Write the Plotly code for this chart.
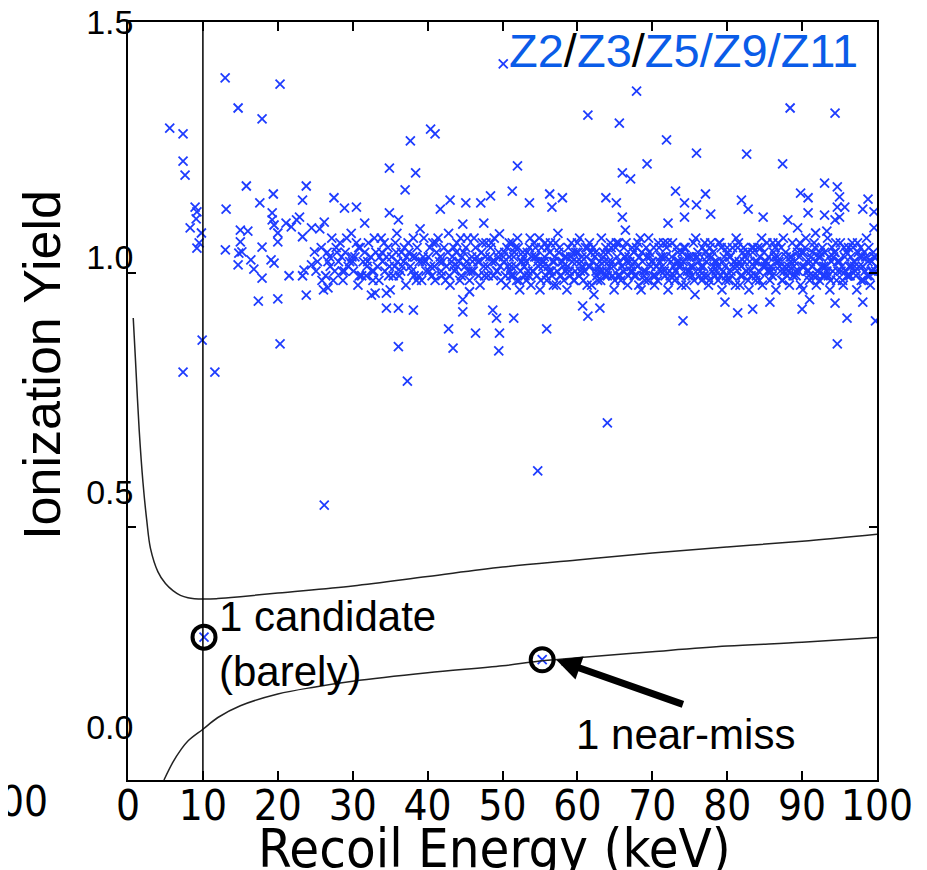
import plotly.graph_objects as go

# ---------------- data ----------------
outlier_x = [5.57, 7.35, 7.35, 7.62, 12.97, 14.7, 17.9, 20.3, 8.96, 9.2, 8.3, 9.8, 9.2, 9.5, 9.1,
             9.9, 7.35, 11.6, 20.3, 15.8, 13.1, 13.0, 17.6, 19.4, 23.8, 23.3, 19.25, 19.25, 19.5,
             15.0, 16.0, 15.0, 14.8, 15.2, 14.7, 16.4, 16.8, 17.9, 17.9, 19.1, 19.5, 20.0, 20.0,
             21.1, 21.8, 22.5, 22.9, 23.3, 24.5, 21.5, 23.3, 23.5, 23.8, 17.4, 20.0, 24.9, 24.5,
             50.1, 40.4, 41.0, 37.7, 34.9, 38.4, 37.0, 27.5, 28.9, 30.5, 26.2, 31.6, 43.0, 45.1,
             47.1, 48.4, 41.7, 44.7, 47.5, 49.6, 36.1, 37.3, 26.2, 42.8, 43.4, 46.4, 49.6, 49.5,
             48.7, 49.2, 44.7, 44.7, 45.6, 32.5, 33.0, 34.5, 34.5, 36.1, 38.1, 26.7, 34.9, 36.1,
             67.9, 61.4, 65.6, 71.9, 75.9, 69.3, 52.0, 66.0, 67.1, 51.3, 56.3, 56.6, 58.0, 63.8,
             65.2, 73.1, 74.3, 75.9, 53.6, 66.0, 72.1, 74.3, 66.4, 51.5, 55.9, 61.4, 74.1, 64.0,
             54.7, 60.7, 63.0, 88.4, 94.4, 82.6, 87.4, 93.0, 94.7, 77.1, 81.9, 82.8, 89.8, 90.8,
             95.0, 95.7, 94.7, 98.8, 98.1, 77.8, 84.8, 90.8, 93.0, 94.4, 95.0, 88.1, 89.4, 91.8,
             93.3, 99.6, 99.6, 81.4, 83.4, 90.0, 91.0, 94.4, 96.0, 94.7, 99.8, 79.7, 85.7, 98.1]
outlier_y = [1.274, 1.262, 1.204, 1.174, 1.381, 1.317, 1.294, 1.368, 1.106, 1.096, 1.062, 1.051, 1.019, 1.03, 1.081,
             0.823, 0.755, 0.755, 0.815, 1.151, 1.102, 1.015, 1.115, 1.134, 1.151, 1.121, 1.094, 1.079, 1.068,
             1.057, 1.055, 1.032, 1.008, 1.011, 0.983, 0.994, 0.974, 0.955, 1.021, 0.994, 0.987, 1.051, 1.032,
             1.072, 1.064, 1.079, 1.085, 1.043, 1.062, 0.960, 0.960, 0.972, 0.919, 0.906, 0.911, 1.011, 0.983,
             1.411, 1.272, 1.262, 1.247, 1.189, 1.179, 1.143, 1.126, 1.104, 1.106, 1.074, 1.072, 1.121, 1.115,
             1.115, 1.130, 1.102, 1.070, 1.072, 1.049, 0.809, 0.736, 0.472, 0.847, 0.806, 0.838, 0.838, 0.800,
             0.887, 0.870, 0.883, 0.909, 0.926, 0.919, 0.923, 0.923, 0.891, 0.891, 0.887, 0.934, 1.094, 1.079,
             1.353, 1.302, 1.285, 1.249, 1.221, 1.198, 1.194, 1.179, 1.166, 1.140, 1.134, 1.106, 1.126, 1.126,
             1.115, 1.140, 1.115, 1.111, 1.115, 1.085, 1.072, 1.085, 1.057, 0.870, 0.847, 0.874, 0.864, 0.647,
             0.545, 0.896, 0.891, 1.317, 1.306, 1.219, 1.198, 1.157, 1.149, 1.134, 1.121, 1.102, 1.136, 1.126,
             1.128, 1.106, 1.106, 1.123, 1.102, 1.091, 1.085, 1.094, 1.089, 1.079, 1.085, 1.079, 1.062, 1.051,
             1.055, 1.096, 1.062, 0.881, 0.889, 0.889, 0.909, 0.902, 0.870, 0.815, 0.864, 0.904, 0.904, 0.904]

band_x = [25.3, 25.8, 26.4, 26.9, 27.2, 27.6, 28.1, 28.3, 28.7, 29.0, 29.4, 29.8, 30.1, 30.3, 30.7, 31.0,
          31.4, 31.8, 32.1, 32.4, 32.8, 33.1, 33.5, 33.8, 34.0, 34.3, 34.7, 35.0, 35.2, 35.6, 35.9, 36.2,
          36.5, 36.8, 37.1, 37.4, 37.7, 38.0, 38.2, 38.6, 38.9, 39.2, 39.5, 39.8, 40.1, 40.4, 40.7, 41.0,
          41.2, 41.6, 41.9, 42.2, 42.5, 42.8, 43.0, 43.3, 43.6, 43.9, 44.2, 44.5, 44.8, 45.0, 45.3, 45.6,
          45.9, 46.1, 46.4, 46.7, 47.0, 47.2, 47.5, 47.8, 48.1, 48.3, 48.6, 48.9, 49.2, 49.5, 49.8,
          25.6, 26.1, 27.0, 27.9, 28.9, 29.6, 30.5, 31.2, 32.0, 32.9, 33.3, 34.5, 35.4, 36.0, 36.9, 37.9,
          38.4, 39.0, 39.7, 40.6, 41.4, 42.0, 42.9, 43.5, 44.0, 44.6, 45.4, 46.2, 46.9, 47.6, 48.4, 49.0, 49.7,
          25.1, 26.6, 27.4, 28.5, 29.2, 30.0, 30.9, 31.6, 32.6, 33.6, 34.2, 34.9, 35.8, 36.4, 37.2, 38.1,
          38.8, 39.4, 40.3, 40.9, 41.7, 42.4, 43.2, 43.8, 44.4, 45.2, 45.8, 46.6, 47.3, 48.0, 48.8, 49.4,
          25.9, 26.7, 27.8, 28.6, 29.9, 30.8, 31.9, 32.7, 33.9, 34.8, 35.7, 36.6, 37.5, 38.5, 39.3, 40.2,
          41.1, 41.8, 42.7, 43.4, 44.3, 45.1, 46.0, 46.8, 47.7, 48.5, 49.3]
band_y = [0.99, 1.02, 0.96, 1.00, 1.04, 0.97, 0.99, 1.03, 0.95, 1.01, 0.98, 1.05, 0.97, 1.00, 0.94, 1.02,
          0.99, 0.96, 1.03, 1.00, 0.97, 1.01, 0.95, 1.04, 0.99, 0.97, 1.02, 0.93, 1.00, 0.98, 1.05, 0.96,
          1.01, 0.99, 0.94, 1.03, 0.98, 1.00, 0.96, 1.02, 0.99, 0.95, 1.04, 0.97, 1.00, 0.98, 1.03, 0.95,
          1.01, 0.99, 0.96, 1.02, 0.98, 1.05, 0.94, 1.00, 0.97, 1.03, 0.99, 0.96, 1.01, 0.98, 1.04, 0.95,
          1.00, 0.97, 1.02, 0.99, 0.94, 1.01, 0.98, 1.03, 0.96, 1.00, 0.99, 1.04, 0.97, 1.01, 0.95,
          1.06, 0.93, 0.98, 1.01, 0.97, 0.99, 1.03, 0.96, 0.99, 1.04, 0.98, 1.00, 0.96, 0.99, 1.02, 0.97,
          1.00, 1.06, 0.99, 0.96, 1.04, 0.99, 0.96, 1.02, 0.98, 1.00, 0.97, 1.04, 0.99, 0.96, 1.02, 0.99, 0.98,
          0.97, 1.01, 0.95, 1.00, 1.04, 0.99, 0.96, 1.01, 0.97, 1.00, 1.03, 0.98, 1.01, 0.97, 1.00, 1.04,
          0.96, 1.00, 1.02, 0.98, 1.00, 0.95, 0.99, 1.01, 1.04, 0.99, 0.97, 1.00, 1.03, 0.98, 0.96, 1.00,
          0.95, 0.99, 1.02, 0.97, 1.00, 1.02, 0.98, 0.95, 1.01, 0.96, 1.03, 0.98, 1.01, 0.95, 0.99, 0.97,
          1.03, 0.97, 1.01, 0.98, 0.95, 1.02, 0.99, 0.96, 1.00, 1.03, 0.97]

dense_x = [50.2, 50.6, 51.1, 51.5, 52.0, 52.4, 52.9, 53.3, 53.8, 54.2, 54.7, 55.1, 55.6, 56.0, 56.5, 56.9,
           57.4, 57.8, 58.3, 58.7, 59.2, 59.6, 60.1, 60.5, 61.0, 61.4, 61.9, 62.3, 62.8, 63.2, 63.7, 64.1,
           64.6, 65.0, 65.5, 65.9, 66.4, 66.8, 67.3, 67.7, 68.2, 68.6, 69.1, 69.5, 70.0, 70.4, 70.9, 71.3,
           71.8, 72.2, 72.7, 73.1, 73.6, 74.0, 74.5, 74.9, 75.4, 75.8, 76.3, 76.7, 77.2, 77.6, 78.1, 78.5,
           79.0, 79.4, 79.9, 80.3, 80.8, 81.2, 81.7, 82.1, 82.6, 83.0, 83.5, 83.9, 84.4, 84.8, 85.3, 85.7,
           86.2, 86.6, 87.1, 87.5, 88.0, 88.4, 88.9, 89.3, 89.8, 90.2, 90.7, 91.1, 91.6, 92.0, 92.5, 92.9,
           93.4, 93.8, 94.3, 94.7, 95.2, 95.6, 96.1, 96.5, 97.0, 97.4, 97.9, 98.3, 98.8, 99.2, 99.7,
           50.4, 50.9, 51.3, 51.8, 52.2, 52.7, 53.1, 53.6, 54.0, 54.5, 54.9, 55.4, 55.8, 56.3, 56.7, 57.2,
           57.6, 58.1, 58.5, 59.0, 59.4, 59.9, 60.3, 60.8, 61.2, 61.7, 62.1, 62.6, 63.0, 63.5, 63.9, 64.4,
           64.8, 65.3, 65.7, 66.2, 66.6, 67.1, 67.5, 68.0, 68.4, 68.9, 69.3, 69.8, 70.2, 70.7, 71.1, 71.6,
           72.0, 72.5, 72.9, 73.4, 73.8, 74.3, 74.7, 75.2, 75.6, 76.1, 76.5, 77.0, 77.4, 77.9, 78.3, 78.8,
           79.2, 79.7, 80.1, 80.6, 81.0, 81.5, 81.9, 82.4, 82.8, 83.3, 83.7, 84.2, 84.6, 85.1, 85.5, 86.0,
           86.4, 86.9, 87.3, 87.8, 88.2, 88.7, 89.1, 89.6, 90.0, 90.5, 90.9, 91.4, 91.8, 92.3, 92.7, 93.2,
           93.6, 94.1, 94.5, 95.0, 95.4, 95.9, 96.3, 96.8, 97.2, 97.7, 98.1, 98.6, 99.0, 99.5, 99.9,
           50.7, 51.6, 52.5, 53.4, 54.3, 55.2, 56.1, 57.0, 57.9, 58.8, 59.7, 60.6, 61.5, 62.4, 63.3, 64.2,
           65.1, 66.0, 66.9, 67.8, 68.7, 69.6, 70.5, 71.4, 72.3, 73.2, 74.1, 75.0, 75.9, 76.8, 77.7, 78.6,
           79.5, 80.4, 81.3, 82.2, 83.1, 84.0, 84.9, 85.8, 86.7, 87.6, 88.5, 89.4, 90.3, 91.2, 92.1, 93.0,
           93.9, 94.8, 95.7, 96.6, 97.5, 98.4, 99.3,
           50.9, 51.9, 52.8, 53.7, 54.6, 55.5, 56.4, 57.3, 58.2, 59.1, 60.0, 60.9, 61.8, 62.7, 63.6, 64.5,
           65.4, 66.3, 67.2, 68.1, 69.0, 69.9, 70.8, 71.7, 72.6, 73.5, 74.4, 75.3, 76.2, 77.1, 78.0, 78.9,
           79.8, 80.7, 81.6, 82.5, 83.4, 84.3, 85.2, 86.1, 87.0, 87.9, 88.8, 89.7, 90.6, 91.5, 92.4, 93.3,
           94.2, 95.1, 96.0, 96.9, 97.8, 98.7, 99.6,
           50.3, 51.2, 52.1, 53.0, 53.9, 54.8, 55.7, 56.6, 57.5, 58.4, 59.3, 60.2, 61.1, 62.0, 62.9, 63.8,
           64.7, 65.6, 66.5, 67.4, 68.3, 69.2, 70.1, 71.0, 71.9, 72.8, 73.7, 74.6, 75.5, 76.4, 77.3, 78.2,
           79.1, 80.0, 80.9, 81.8, 82.7, 83.6, 84.5, 85.4, 86.3, 87.2, 88.1, 89.0, 89.9, 90.8, 91.7, 92.6,
           93.5, 94.4, 95.3, 96.2, 97.1, 98.0, 98.9, 99.8,
           50.5, 51.4, 52.3, 53.2, 54.1, 55.0, 55.9, 56.8, 57.7, 58.6, 59.5, 60.4, 61.3, 62.2, 63.1, 64.0,
           64.9, 65.8, 66.7, 67.6, 68.5, 69.4, 70.3, 71.2, 72.1, 73.0, 73.9, 74.8, 75.7, 76.6, 77.5, 78.4,
           79.3, 80.2, 81.1, 82.0, 82.9, 83.8, 84.7, 85.6, 86.5, 87.4, 88.3, 89.2, 90.1, 91.0, 91.9, 92.8,
           93.7, 94.6, 95.5, 96.4, 97.3, 98.2, 99.1,
           50.1, 51.0, 51.7, 52.6, 53.5, 54.4, 55.3, 56.2, 57.1, 58.0, 58.9, 59.8, 60.7, 61.6, 62.5, 63.4,
           64.3, 65.2, 66.1, 67.0, 67.9, 68.8, 69.7, 70.6, 71.5, 72.4, 73.3, 74.2, 75.1, 76.0, 76.9, 77.8,
           78.7, 79.6, 80.5, 81.4, 82.3, 83.2, 84.1, 85.0, 85.9, 86.8, 87.7, 88.6, 89.5, 90.4, 91.3, 92.2,
           93.1, 94.0, 94.9, 95.8, 96.7, 97.6, 98.5, 99.4]
dense_y = [0.99, 1.02, 0.96, 1.00, 1.04, 0.97, 0.98, 1.01, 0.94, 1.03, 0.99, 0.95, 1.00, 1.02, 0.97, 0.99,
           1.05, 0.96, 1.00, 0.98, 1.03, 0.95, 1.01, 0.99, 0.97, 1.02, 0.94, 1.00, 0.98, 1.04, 0.96, 1.01,
           0.99, 0.95, 1.03, 0.98, 1.00, 0.96, 1.02, 0.99, 0.94, 1.01, 0.97, 1.04, 0.99, 0.96, 1.02, 0.98,
           1.00, 0.95, 1.03, 0.97, 0.99, 1.01, 0.94, 1.00, 0.98, 1.04, 0.96, 1.02, 0.99, 0.95, 1.01, 0.97,
           1.03, 0.99, 0.96, 1.00, 0.98, 1.04, 0.94, 1.01, 0.97, 0.99, 1.02, 0.96, 1.00, 0.98, 1.03, 0.95,
           1.01, 0.99, 0.97, 1.04, 0.96, 1.00, 0.98, 1.02, 0.94, 1.01, 0.97, 0.99, 1.03, 0.96, 1.00, 0.98,
           1.04, 0.95, 1.01, 0.99, 0.97, 1.02, 0.96, 1.00, 0.98, 1.03, 0.95, 1.01, 0.99, 0.97, 1.00,
           0.96, 1.00, 1.03, 0.98, 0.95, 1.01, 0.99, 1.02, 0.97, 1.00, 1.04, 0.98, 0.96, 1.01, 0.99, 0.94,
           1.02, 0.98, 1.00, 0.96, 1.01, 0.99, 1.04, 0.95, 1.00, 0.98, 1.02, 0.96, 0.99, 1.01, 0.97, 1.03,
           0.98, 1.00, 0.96, 1.02, 0.99, 0.97, 1.01, 0.98, 1.04, 0.96, 1.00, 0.98, 1.02, 0.95, 1.00, 0.97,
           1.03, 0.99, 0.96, 1.01, 0.98, 1.02, 0.97, 1.00, 0.95, 1.01, 0.98, 1.03, 0.96, 1.00, 0.99, 0.95,
           1.02, 0.98, 1.01, 0.96, 0.99, 1.03, 0.98, 1.00, 0.95, 1.02, 0.99, 0.97, 1.04, 0.98, 1.00, 0.96,
           1.02, 0.99, 0.95, 1.01, 0.98, 1.03, 0.97, 1.00, 0.98, 1.04, 0.96, 1.01, 0.99, 0.95, 1.02, 0.98,
           1.00, 0.97, 1.03, 0.99, 0.95, 1.01, 0.98, 1.02, 0.96, 1.00, 0.98, 1.04, 0.96, 1.01, 0.98,
           0.98, 1.01, 0.99, 0.97, 1.00, 1.02, 0.98, 1.00, 0.99, 1.02, 0.97, 1.00, 0.98, 1.01, 0.97, 0.99,
           1.02, 0.98, 1.00, 0.96, 0.99, 1.01, 0.98, 1.00, 0.97, 1.02, 0.99, 0.97, 1.00, 0.98, 1.02, 0.99,
           0.97, 1.00, 0.98, 1.02, 0.97, 0.99, 1.01, 0.98, 1.00, 0.97, 0.99, 1.01, 0.98, 1.00, 0.97, 1.01,
           0.99, 0.97, 1.00, 0.98, 1.01, 0.97, 0.99,
           1.03, 0.95, 1.00, 1.04, 0.96, 0.99, 1.03, 0.97, 0.95, 1.00, 1.03, 0.97, 1.01, 0.95, 0.99, 1.02,
           0.96, 1.00, 0.98, 1.03, 0.95, 0.99, 1.03, 0.96, 1.00, 0.98, 1.02, 0.96, 0.99, 1.01, 0.97, 1.03,
           0.95, 1.02, 0.99, 0.97, 1.01, 0.95, 0.99, 1.03, 0.98, 1.00, 0.96, 1.03, 0.99, 0.96, 1.01, 0.97,
           1.00, 1.03, 0.96, 0.99, 1.02, 0.96, 1.00,
           1.01, 0.98, 1.02, 0.96, 1.00, 0.98, 1.03, 0.96, 1.01, 0.97, 0.99, 0.96, 1.02, 0.99, 0.97, 1.02,
           0.96, 0.99, 1.03, 0.97, 1.00, 1.02, 0.96, 0.99, 1.02, 0.98, 0.96, 1.00, 1.03, 0.97, 1.00, 0.98,
           0.96, 1.02, 0.99, 0.96, 1.01, 0.98, 1.02, 0.97, 1.00, 1.02, 0.97, 0.99, 1.01, 0.97, 1.02, 0.98,
           0.96, 1.01, 0.98, 1.02, 0.97, 1.00, 1.02, 0.97,
           0.94, 0.96, 0.93, 0.95, 0.97, 0.93, 0.95, 0.94, 0.96, 0.93, 0.95, 0.97, 0.94, 0.92, 0.95, 0.96,
           0.93, 0.95, 0.94, 0.96, 0.93, 0.95, 0.94, 0.97, 0.93, 0.95, 0.94, 0.96, 0.92, 0.95, 0.94, 0.96,
           0.93, 0.95, 0.94, 0.96, 0.93, 0.95, 0.94, 0.97, 0.93, 0.95, 0.94, 0.96, 0.93, 0.95, 0.94, 0.96,
           0.93, 0.95, 0.94, 0.96, 0.93, 0.95, 0.94,
           1.00, 0.97, 1.02, 0.99, 0.96, 1.02, 0.99, 0.97, 1.03, 0.99, 0.97, 1.01, 0.98, 1.03, 0.97, 1.00,
           0.98, 1.03, 0.97, 0.99, 1.02, 0.97, 1.00, 0.98, 1.03, 0.96, 0.99, 1.02, 0.98, 1.00, 0.96, 1.03,
           0.98, 1.00, 0.97, 1.02, 0.99, 0.96, 1.02, 0.99, 0.97, 1.03, 0.98, 1.00, 0.97, 1.02, 0.98, 1.00,
           0.96, 1.02, 0.99, 0.97, 1.03, 0.98, 1.00, 0.97]

candidate_x = [10.15]
candidate_y = [0.191]
nearmiss_x = [55.3]
nearmiss_y = [0.143]

upper_x = [0.7, 1.0, 1.5, 2.0, 2.5, 3.0, 4.0, 5.0, 6.0, 7.0, 8.0, 10.0, 12.0, 15.0, 20.0, 30.0,
           40.0, 50.0, 60.0, 70.0, 80.0, 90.0, 100.0]
upper_y = [0.87, 0.78, 0.63, 0.52, 0.44, 0.38, 0.33, 0.305, 0.29, 0.28, 0.275, 0.272, 0.273, 0.277,
           0.285, 0.30, 0.32, 0.34, 0.355, 0.37, 0.383, 0.395, 0.41]
lower_x = [4.8, 6.0, 7.0, 8.0, 10.0, 12.0, 15.0, 20.0, 25.0, 30.0, 40.0, 50.0, 55.0, 60.0, 70.0,
           80.0, 90.0, 100.0]
lower_y = [-0.113, -0.075, -0.05, -0.03, -0.005, 0.02, 0.045, 0.07, 0.085, 0.097, 0.115, 0.13, 0.14,
           0.147, 0.16, 0.172, 0.18, 0.19]

threshold_x = 10.0
x_ticks = [0, 10, 20, 30, 40, 50, 60, 70, 80, 90, 100]
y_ticks = [0.0, 0.5, 1.0, 1.5]
y_ticktext = ["0.0", "0.5", "1.0", "1.5"]
y_minor_ticks = [0.4255, 0.966]

MARK = "rgb(30,60,255)"
COND = "DejaVu Sans Condensed, Liberation Sans, Arial"
SANS = "Liberation Sans, Arial"

fig = go.Figure()
for xs, ys in [(outlier_x, outlier_y), (band_x, band_y), (dense_x, dense_y), (candidate_x, candidate_y), (nearmiss_x, nearmiss_y)]:
    fig.add_trace(go.Scatter(x=xs, y=ys, mode="markers",
                             marker=dict(symbol="x-thin", size=9, line=dict(width=1.8, color=MARK), color=MARK),
                             showlegend=False, cliponaxis=True))
fig.add_trace(go.Scatter(x=upper_x, y=upper_y, mode="lines", line=dict(color="#222", width=1.5, shape="spline"),
                         showlegend=False))
fig.add_trace(go.Scatter(x=lower_x, y=lower_y, mode="lines", line=dict(color="#222", width=1.5, shape="spline"),
                         showlegend=False))
fig.add_trace(go.Scatter(x=candidate_x + nearmiss_x, y=candidate_y + nearmiss_y, mode="markers",
                         marker=dict(symbol="circle-open", size=23, color="black",
                                     line=dict(width=4, color="black")),
                         showlegend=False))

fig.add_shape(type="line", xref="x", yref="paper", x0=threshold_x, x1=threshold_x, y0=0, y1=1,
              line=dict(color="black", width=1.5))

blue = "#0a5ce8"
fig.add_annotation(xref="paper", yref="paper", x=0.977, y=0.963, xanchor="right", yanchor="middle",
                   showarrow=False, font=dict(family=SANS, size=47, color=blue),
                   text="Z2<span style='color:black'>/</span>Z3<span style='color:black'>/</span>Z5/Z9/Z11")
fig.add_annotation(x=11.9, y=0.290, xref="x", yref="y", xanchor="left", yanchor="top", align="left",
                   showarrow=False, font=dict(family=SANS, size=42, color="black"),
                   text="1 candidate<br>(barely)")
fig.add_annotation(x=59.5, y=-0.017, xref="x", yref="y", xanchor="left", yanchor="middle",
                   showarrow=False, font=dict(family=SANS, size=42, color="black"),
                   text="1 near-miss")
fig.add_annotation(x=57.2, y=0.1426, xref="x", yref="y", ax=128, ay=45, text="",
                   showarrow=True, arrowhead=2, arrowsize=0.7, arrowwidth=7, arrowcolor="black")
fig.add_annotation(xref="paper", yref="paper", x=-0.1045, y=-0.028, xanchor="right", yanchor="middle",
                   showarrow=False, font=dict(family=COND, size=42, color="black"),
                   text="100")
fig.add_annotation(xref="paper", yref="paper", x=-0.115, y=0.5475, xanchor="center", yanchor="middle",
                   textangle=-90, showarrow=False, font=dict(family=SANS, size=52, color="black"),
                   text="Ionization Yield")
fig.add_annotation(xref="paper", yref="paper", x=0.4887, y=-0.090, xanchor="center", yanchor="middle",
                   showarrow=False, font=dict(family=COND, size=54, color="black"),
                   text="Recoil Energy (keV)")

# page body has an 8 px margin, so the figure is drawn 8 px in from the corner
fig.update_layout(
    template="none",
    width=919, height=862,
    margin=dict(l=120, r=50, t=14, b=90),
    paper_bgcolor="white", plot_bgcolor="white",
    font=dict(family=SANS, color="black"),
    xaxis=dict(range=[0, 100], tickvals=x_ticks, ticks="inside", ticklen=9, tickwidth=1.5, tickcolor="black",
               showline=True, linecolor="black", linewidth=1.5, mirror="ticks", showgrid=False,
               zeroline=False, automargin=False, ticklabelstandoff=-12, ticklabeloverflow="allow",
               tickfont=dict(family=COND, size=42)),
    yaxis=dict(range=[-0.113, 1.5], tickvals=y_ticks, ticktext=y_ticktext, ticks="",
               ticklabelstandoff=-14, automargin=False, ticklabeloverflow="allow",
               minor=dict(tickvals=y_minor_ticks, ticks="inside", ticklen=8, tickwidth=1.5, tickcolor="black",
                          showgrid=False),
               showline=True, linecolor="black", linewidth=1.5, mirror="ticks", showgrid=False,
               zeroline=False, tickfont=dict(family=SANS, size=34)),
)

fig.write_html("out.html")
